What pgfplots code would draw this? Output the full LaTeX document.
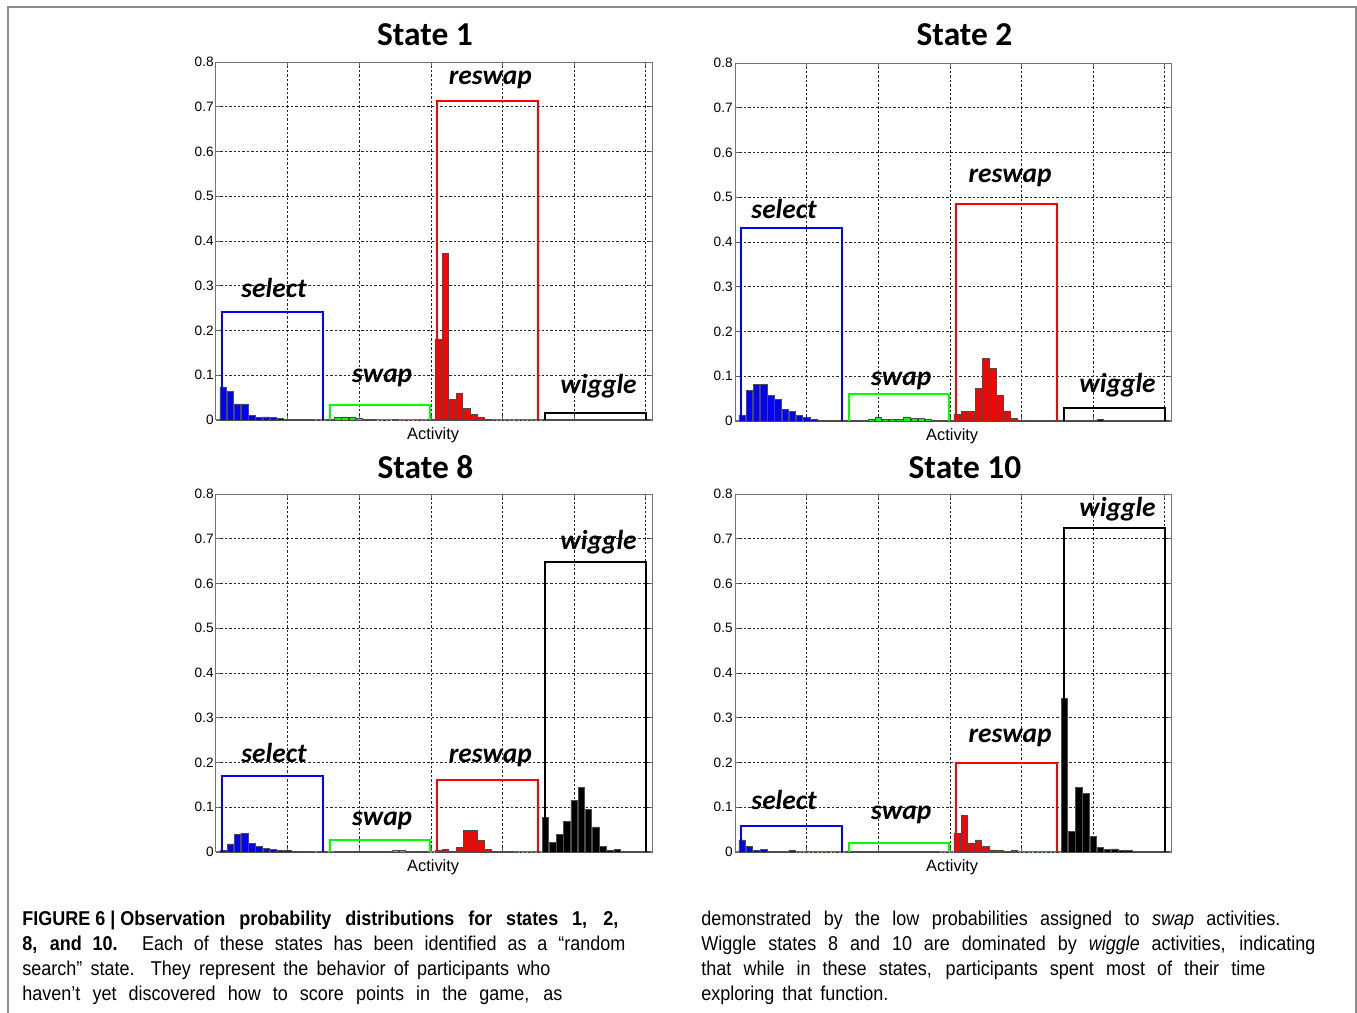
\documentclass[border=0pt]{standalone}
\usepackage{fontspec}
\setmainfont{Liberation Sans}
\newfontfamily\calibri{Carlito}
\newfontfamily\capfont[FakeStretch=0.9]{Liberation Sans}
\usepackage{pgfplots}
\pgfplotsset{compat=1.18}

\pgfplotsset{
  panel/.style={
    scale only axis, width=218.5pt, height=179pt, anchor=south west,
    xmin=0, xmax=61, ymin=0, ymax=0.8,
    xtick={10,20,30,40,50,60}, xticklabels={},
    ytick={0,0.1,0.2,0.3,0.4,0.5,0.6,0.7,0.8},
    yticklabels={0,0.1,0.2,0.3,0.4,0.5,0.6,0.7,0.8},
    grid=major,
    grid style={black!85, line width=0.4pt, dash pattern=on 1.2pt off 1pt},
    axis line style={black!55, line width=0.5pt},
    tick align=inside, major tick length=2pt,
    tick style={black!60, line width=0.4pt},
    yticklabel style={font=\fontsize{6.8}{8}\selectfont, inner xsep=1pt},
    clip=false,
  },
  bars/.style={ybar, bar width=0.9, bar shift=0pt, draw=black!70, line width=0.35pt},
  box/.style={sharp plot, line width=1pt, mark=none},
}
\tikzset{
  lab/.style={font=\calibri\bfseries\itshape\fontsize{13.7}{15}\selectfont, anchor=base, inner sep=0pt},
  act/.style={font=\fontsize{8.2}{9}\selectfont, anchor=base, inner sep=0pt},
}

\begin{document}
\begin{tikzpicture}
\useasboundingbox (0,0) rectangle (678.5pt,506.5pt);
\draw[black!45, line width=0.6pt] (4pt,0) -- (4pt,503pt) -- (678pt,503pt) -- (678pt,0);

% ---------- State 1 ----------
\begin{axis}[panel, at={(108pt,296.5pt)}]
\addplot[bars, fill=blue] coordinates {
 (1,0.074) (2,0.063) (3,0.036) (4,0.036) (5,0.010) (6,0.005) (7,0.007) (8,0.005)
 (9,0.003) (10,0.001) (11,0.002) (12,0.002) (13,0.001) (14,0) (15,0)};
\addplot[bars, fill=green] coordinates {
 (16,0.001) (17,0.005) (18,0.007) (19,0.005) (20,0.004) (21,0.002) (22,0.001) (23,0)
 (24,0) (25,0.001) (26,0) (27,0) (28,0) (29,0) (30,0.001)};
\addplot[bars, fill=red] coordinates {
 (31,0.180) (32,0.372) (33,0.046) (34,0.060) (35,0.025) (36,0.012) (37,0.005) (38,0.002)
 (39,0) (40,0) (41,0) (42,0) (43,0) (44,0) (45,0)};
\addplot[bars, fill=black] coordinates {
 (46,0.001) (47,0.001) (48,0.001) (49,0.001) (50,0.001) (51,0.001) (52,0.001) (53,0.001)
 (54,0.001) (55,0.001) (56,0.001) (57,0.001) (58,0.001) (59,0.001) (60,0.001)};
\addplot[box, blue] coordinates {(0.9,0) (0.9,0.241) (15,0.241) (15,0)};
\addplot[box, green] coordinates {(15.9,0) (15.9,0.034) (29.9,0.034) (29.9,0)};
\addplot[box, red] coordinates {(30.9,0) (30.9,0.712) (44.9,0.712) (44.9,0)};
\addplot[box, black] coordinates {(45.9,0) (45.9,0.015) (60,0.015) (60,0)};
\node[lab] at (axis cs:8.1,0.273) {select};
\node[lab] at (axis cs:23.2,0.083) {swap};
\node[lab] at (axis cs:38.3,0.749) {reswap};
\node[lab] at (axis cs:53.4,0.060) {wiggle};
\node[act] at ([yshift=-10pt]rel axis cs:0.497,0) {Activity};
\end{axis}

% ---------- State 2 ----------
\begin{axis}[panel, at={(367.5pt,296pt)}]
\addplot[bars, fill=blue] coordinates {
 (1,0.013) (2,0.069) (3,0.081) (4,0.082) (5,0.057) (6,0.048) (7,0.025) (8,0.022)
 (9,0.013) (10,0.0075) (11,0.0037) (12,0.0015) (13,0.0005) (14,0.002) (15,0.002)};
\addplot[bars, fill=green] coordinates {
 (16,0.001) (17,0.002) (18,0.002) (19,0.004) (20,0.0075) (21,0.004) (22,0.004) (23,0.003)
 (24,0.009) (25,0.006) (26,0.006) (27,0.004) (28,0.002) (29,0.0015) (30,0.0005)};
\addplot[bars, fill=red] coordinates {
 (31,0.015) (32,0.021) (33,0.021) (34,0.072) (35,0.139) (36,0.117) (37,0.058) (38,0.022)
 (39,0.005) (40,0.0015) (41,0.001) (42,0.001) (43,0.001) (44,0.001) (45,0.001)};
\addplot[bars, fill=black] coordinates {
 (46,0.001) (47,0.001) (48,0.001) (49,0.002) (50,0.001) (51,0.004) (52,0.002) (53,0.001)
 (54,0.002) (55,0.001) (56,0.001) (57,0.001) (58,0.002) (59,0.001) (60,0.001)};
\addplot[box, blue] coordinates {(0.9,0) (0.9,0.432) (15,0.432) (15,0)};
\addplot[box, green] coordinates {(15.9,0) (15.9,0.060) (29.9,0.060) (29.9,0)};
\addplot[box, red] coordinates {(30.9,0) (30.9,0.485) (44.9,0.485) (44.9,0)};
\addplot[box, black] coordinates {(45.9,0) (45.9,0.028) (60,0.028) (60,0)};
\node[lab] at (axis cs:6.85,0.452) {select};
\node[lab] at (axis cs:23.2,0.080) {swap};
\node[lab] at (axis cs:38.4,0.532) {reswap};
\node[lab] at (axis cs:53.4,0.063) {wiggle};
\node[act] at ([yshift=-10pt]rel axis cs:0.497,0) {Activity};
\end{axis}

% ---------- State 8 ----------
\begin{axis}[panel, at={(108pt,80.5pt)}]
\addplot[bars, fill=blue] coordinates {
 (1,0.004) (2,0.018) (3,0.039) (4,0.042) (5,0.020) (6,0.013) (7,0.008) (8,0.005)
 (9,0.003) (10,0.004) (11,0.002) (12,0.002) (13,0.001) (14,0) (15,0.001)};
\addplot[bars, fill=green] coordinates {
 (16,0) (17,0.001) (18,0.001) (19,0.002) (20,0.002) (21,0.002) (22,0.001) (23,0.001)
 (24,0.001) (25,0.003) (26,0.004) (27,0.002) (28,0.001) (29,0.001) (30,0)};
\addplot[bars, fill=red] coordinates {
 (31,0.003) (32,0.005) (33,0.0015) (34,0.010) (35,0.048) (36,0.048) (37,0.026) (38,0.005)
 (39,0.002) (40,0.001) (41,0.001) (42,0) (43,0) (44,0) (45,0)};
\addplot[bars, fill=black] coordinates {
 (46,0.078) (47,0.022) (48,0.039) (49,0.068) (50,0.116) (51,0.145) (52,0.096) (53,0.056)
 (54,0.012) (55,0.004) (56,0.005) (57,0.002) (58,0.002) (59,0.001) (60,0.001)};
\addplot[box, blue] coordinates {(0.9,0) (0.9,0.170) (15,0.170) (15,0)};
\addplot[box, green] coordinates {(15.9,0) (15.9,0.027) (29.9,0.027) (29.9,0)};
\addplot[box, red] coordinates {(30.9,0) (30.9,0.161) (44.9,0.161) (44.9,0)};
\addplot[box, black] coordinates {(45.9,0) (45.9,0.648) (60,0.648) (60,0)};
\node[lab] at (axis cs:8.1,0.199) {select};
\node[lab] at (axis cs:23.2,0.060) {swap};
\node[lab] at (axis cs:38.3,0.199) {reswap};
\node[lab] at (axis cs:53.4,0.675) {wiggle};
\node[act] at ([yshift=-10pt]rel axis cs:0.497,0) {Activity};
\end{axis}

% ---------- State 10 ----------
\begin{axis}[panel, at={(367.5pt,80.5pt)}]
\addplot[bars, fill=blue] coordinates {
 (1,0.027) (2,0.013) (3,0.004) (4,0.005) (5,0.001) (6,0.001) (7,0.001) (8,0.003)
 (9,0) (10,0) (11,0) (12,0) (13,0) (14,0) (15,0)};
\addplot[bars, fill=green] coordinates {
 (16,0.001) (17,0.002) (18,0.002) (19,0.002) (20,0.002) (21,0.001) (22,0.002) (23,0.001)
 (24,0.001) (25,0.001) (26,0.001) (27,0.002) (28,0.001) (29,0) (30,0)};
\addplot[bars, fill=red] coordinates {
 (31,0.042) (32,0.081) (33,0.019) (34,0.027) (35,0.013) (36,0.0045) (37,0.003) (38,0.001)
 (39,0.003) (40,0) (41,0) (42,0) (43,0) (44,0) (45,0)};
\addplot[bars, fill=black] coordinates {
 (46,0.344) (47,0.046) (48,0.145) (49,0.130) (50,0.035) (51,0.011) (52,0.005) (53,0.007)
 (54,0.003) (55,0.003) (56,0.001) (57,0.001) (58,0.001) (59,0.001) (60,0.001)};
\addplot[box, blue] coordinates {(0.9,0) (0.9,0.059) (15,0.059) (15,0)};
\addplot[box, green] coordinates {(15.9,0) (15.9,0.020) (29.9,0.020) (29.9,0)};
\addplot[box, red] coordinates {(30.9,0) (30.9,0.200) (44.9,0.200) (44.9,0)};
\addplot[box, black] coordinates {(45.9,0) (45.9,0.724) (60,0.724) (60,0)};
\node[lab] at (axis cs:6.85,0.094) {select};
\node[lab] at (axis cs:23.2,0.072) {swap};
\node[lab] at (axis cs:38.4,0.244) {reswap};
\node[lab] at (axis cs:53.4,0.749) {wiggle};
\node[act] at ([yshift=-10pt]rel axis cs:0.497,0) {Activity};
\end{axis}

% titles
\begin{scope}[every node/.style={font=\calibri\bfseries\fontsize{16.7}{18}\selectfont, anchor=base, inner sep=0pt}]
\node at (212.5pt,483.5pt) {State 1};
\node at (482.25pt,483.5pt) {State 2};
\node at (212.75pt,267pt) {State 8};
\node at (482.5pt,267pt) {State 10};
\end{scope}

% caption
\begin{scope}[every node/.style={font=\capfont\fontsize{10}{12}\selectfont, anchor=base west, inner sep=0pt}]
\node at (11pt,43.5pt) {\makebox[298pt][s]{\bfseries\mbox{FIGURE 6 | Observation} probability distributions for states 1, 2,}};
\node at (11pt,31pt) {\makebox[301.5pt][s]{\textbf{8, and 10.} Each of these states has been identified as a “random}};
\node at (11pt,18.5pt) {\makebox[264pt][s]{search” state. They represent the behavior of participants who}};
\node at (11pt,6pt) {\makebox[270pt][s]{haven’t yet discovered how to score points in the game, as}};
\node at (350.5pt,43.5pt) {\makebox[289.5pt][s]{demonstrated by the low probabilities assigned to \textit{swap} activities.}};
\node at (350.5pt,31pt) {\makebox[307pt][s]{Wiggle states 8 and 10 are dominated by \textit{wiggle} activities, indicating}};
\node at (350.5pt,18.5pt) {\makebox[282pt][s]{that while in these states, participants spent most of their time}};
\node at (350.5pt,6pt) {exploring\hspace{4pt}that\hspace{4pt}function.};
\end{scope}
\end{tikzpicture}
\end{document}
